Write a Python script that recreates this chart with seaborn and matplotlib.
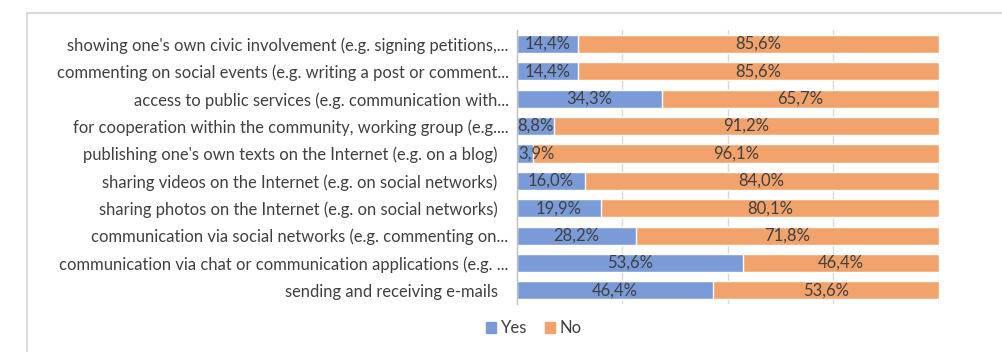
import matplotlib
matplotlib.use("Agg")
import matplotlib.pyplot as plt
import matplotlib.transforms as mtransforms
import seaborn as sns
import pandas as pd
from matplotlib.patches import Rectangle

categories = [
    "showing one's own civic involvement (e.g. signing petitions,...",
    "commenting on social events (e.g. writing a post or comment...",
    "access to public services (e.g. communication with...",
    "for cooperation within the community, working group (e.g....",
    "publishing one's own texts on the Internet (e.g. on a blog)",
    "sharing videos on the Internet (e.g. on social networks)",
    "sharing photos on the Internet (e.g. on social networks)",
    "communication via social networks (e.g. commenting on...",
    "communication via chat or communication applications (e.g. ...",
    "sending and receiving e-mails",
]
yes_pct = [14.4, 14.4, 34.3, 8.8, 3.9, 16.0, 19.9, 28.2, 53.6, 46.4]
no_pct = [85.6, 85.6, 65.7, 91.2, 96.1, 84.0, 80.1, 71.8, 46.4, 53.6]
series_names = ["Yes", "No"]

BLUE = "#7B9BD8"
ORANGE = "#F2A36C"
TEXT = "#404040"

sns.set_theme(style="white")
plt.rcParams["font.family"] = ["Lato", "DejaVu Sans"]

df = pd.DataFrame({"category": categories, "yes": yes_pct, "no": no_pct})
df["total"] = df["yes"] + df["no"]

fig = plt.figure(figsize=(10.02, 3.52), dpi=100)
ax = fig.add_axes([0.516, 0.136, 0.421, 0.778])

# Stacked bars: full (Yes + No) length in orange, Yes overlaid in blue
sns.barplot(data=df, y="category", x="total", color=ORANGE, width=0.66,
            ax=ax, orient="h", saturation=1, zorder=2)
sns.barplot(data=df, y="category", x="yes", color=BLUE, width=0.66,
            ax=ax, orient="h", saturation=1, zorder=3)

ax.set_xlim(0, 100)
ax.set_ylim(9.5, -0.5)
ax.set_xlabel("")
ax.set_ylabel("")
ax.set_xticks([])
for x in (25, 50, 75, 100):
    ax.axvline(x, color="#d9d9d9", lw=1, zorder=1)

for side in ("top", "right", "bottom"):
    ax.spines[side].set_visible(False)
ax.spines["left"].set_color("#bfbfbf")
ax.spines["left"].set_linewidth(1)
ax.spines["left"].set_zorder(4)

ax.tick_params(axis="y", length=0, pad=14, labelsize=11.9, labelcolor=TEXT)

# Truncated labels: the ellipsis hangs past the common right edge
for lbl in ax.get_yticklabels():
    if lbl.get_text().endswith("..."):
        lbl.set_transform(lbl.get_transform() + mtransforms.ScaledTranslation(
            11 / 100, 0, fig.dpi_scale_trans))

def fmt(v):
    return f"{v:.1f}%".replace(".", ",")

for i, (y, n) in enumerate(zip(yes_pct, no_pct)):
    if y < 6:
        ax.annotate(fmt(y), (0, i), xytext=(1, 0), textcoords="offset points",
                    ha="left", va="center", fontsize=12, color=TEXT, zorder=5)
    else:
        ax.text(y / 2, i, fmt(y), ha="center", va="center", fontsize=12,
                color=TEXT, zorder=5)
    ax.text(y + n / 2, i, fmt(n), ha="center", va="center", fontsize=12,
            color=TEXT, zorder=5)

handles = [Rectangle((0, 0), 1, 1, color=BLUE), Rectangle((0, 0), 1, 1, color=ORANGE)]
fig.legend(handles, series_names, loc="center", bbox_to_anchor=(0.533, 0.067),
           ncol=2, frameon=False, fontsize=12, handlelength=0.6,
           handleheight=0.6, handletextpad=0.3, columnspacing=1.0,
           labelcolor=TEXT)

# Chart area border
fig.patches.append(Rectangle((26.5 / 1002, -0.1), 1.2, 1 - 12.5 / 352 + 0.1,
                             transform=fig.transFigure, fill=False,
                             edgecolor="#d9d9d9", lw=1.5, zorder=0))

fig.savefig("out.png", dpi=100)
